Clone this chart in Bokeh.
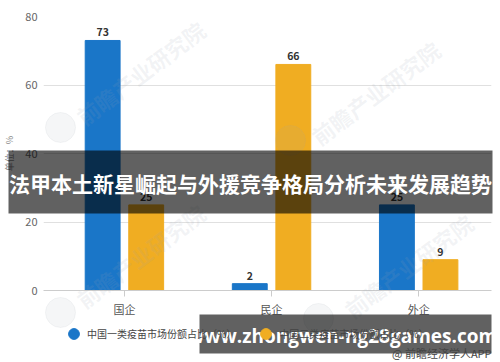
import math
from bokeh.plotting import figure
from bokeh.layouts import column
from bokeh.models import (ColumnDataSource, Range1d, Legend, LegendItem, FixedTicker)
from bokeh.core.properties import value
from bokeh.embed import file_html
from bokeh.resources import INLINE

categories = ["国企", "民企", "外企"]
series1_name = "中国一类疫苗市场份额占比（%）"
series2_name = "中国二类疫苗市场份额占比（%）"
series1 = [73, 2, 25]
series2 = [25, 66, 9]
y_ticks = [0, 20, 40, 60, 80]
banner_title = "法甲本土新星崛起与外援竞争格局分析未来发展趋势"
banner_url = "www.zhongwen-ng28games.com"
source_note = "@ 前瞻经济学人APP"
watermark = "前瞻产业研究院"

CJK = "Noto Sans CJK SC"
BLUE = "#1a76c8"
ORANGE = "#f0ad22"

pos = list(range(len(categories)))
src1 = ColumnDataSource(dict(x=[i - 0.148 for i in pos], y=series1, lab=[str(v) for v in series1]))
src2 = ColumnDataSource(dict(x=[i + 0.148 for i in pos], y=series2, lab=[str(v) for v in series2]))

# ---------------- main chart ----------------
p = figure(width=500, height=362, output_backend="svg", toolbar_location=None,
           x_range=Range1d(-0.55, 2.495), y_range=Range1d(0, 80),
           min_border_left=42, min_border_right=9, min_border_top=16, min_border_bottom=72,
           margin=(0, 0, 0, 0))
p.frame_align = False
p.outline_line_color = None
p.background_fill_color = "white"
p.border_fill_color = "white"

r1 = p.vbar(x="x", top="y", width=0.237, source=src1, color=BLUE)
r2 = p.vbar(x="x", top="y", width=0.237, source=src2, color=ORANGE)

for s in (src1, src2):
    p.text(x="x", y="y", text="lab", source=s, text_align="center", text_baseline="bottom",
           y_offset=-4, text_font=value(CJK), text_font_size="10.5px", text_font_style="bold",
           text_color="#333333")

p.xaxis.ticker = FixedTicker(ticks=pos)
p.xaxis.major_label_overrides = {i: c for i, c in enumerate(categories)}
p.xaxis.major_label_text_font = CJK
p.xaxis.major_label_text_font_size = "11px"
p.xaxis.major_label_text_color = "#555555"
p.xaxis.axis_line_color = "#cccccc"
p.xaxis.major_tick_line_color = "#cccccc"
p.xaxis.major_tick_in = 0
p.xaxis.major_tick_out = 6
p.xaxis.minor_tick_line_color = None
p.xaxis.major_label_standoff = 4
p.xgrid.grid_line_color = None

p.yaxis.ticker = FixedTicker(ticks=y_ticks)
p.yaxis.axis_line_color = None
p.yaxis.major_tick_line_color = None
p.yaxis.major_tick_out = 0
p.yaxis.major_tick_in = 0
p.yaxis.minor_tick_line_color = None
p.yaxis.major_label_text_font = CJK
p.yaxis.major_label_text_font_size = "11px"
p.yaxis.major_label_text_color = "#666666"
p.yaxis.major_label_standoff = 6
p.yaxis.axis_label = "单位：%"
p.yaxis.axis_label_text_font = CJK
p.yaxis.axis_label_text_font_size = "9px"
p.yaxis.axis_label_text_font_style = "normal"
p.yaxis.axis_label_text_color = "#888888"
p.yaxis.axis_label_standoff = 6
p.ygrid.grid_line_color = "#e0e0e0"

# ---------------- overlay (watermarks, legend, banners) ----------------
o = figure(width=500, height=362, output_backend="svg", toolbar_location=None,
           x_range=Range1d(0, 500), y_range=Range1d(362, 0),
           x_axis_location=None, y_axis_location=None,
           min_border=0, margin=(-362, 0, 0, 0))
o.frame_align = False
o.outline_line_color = None
o.background_fill_color = None
o.border_fill_color = None
o.grid.grid_line_color = None

# faint watermarks
o.text(x=[140, 375, 140, 408], y=[72, 92, 255, 265], text=[watermark] * 4,
       angle=math.radians(37), text_font=value(CJK), text_font_size="22px",
       text_font_style="bold", text_color="#9aa4b0", text_alpha=0.13,
       text_align="center", text_baseline="middle")
o.scatter(x=[60, 290, 60, 318], y=[127, 140, 312, 318], marker="circle", size=30,
          color="#9aa4b0", alpha=0.10)

d1 = o.scatter(x=[-100], y=[-100], marker="circle", size=11, color=BLUE)
d2 = o.scatter(x=[-100], y=[-100], marker="circle", size=11, color=ORANGE)
legend = Legend(items=[LegendItem(label=series1_name, renderers=[d1]),
                       LegendItem(label=series2_name, renderers=[d2])],
                orientation="horizontal", location=(60, 15), border_line_color=None,
                background_fill_alpha=0, label_text_font=CJK, label_text_font_size="10px",
                label_text_color="#444444", glyph_width=27, glyph_height=27,
                label_height=27, label_standoff=-2, spacing=16, padding=0, margin=0)
o.add_layout(legend)

o.quad(left=[8], right=[492], top=[150], bottom=[213], fill_color="black", fill_alpha=0.62,
       line_color=None)
o.text(x=[250], y=[182], text=[banner_title], text_font=value(CJK), text_font_size="21px",
       text_font_style="bold", text_color="white", text_align="center", text_baseline="middle")
o.quad(left=[199], right=[491], top=[314], bottom=[353], fill_color="black", fill_alpha=0.62,
       line_color=None)
o.text(x=[342], y=[335], text=[banner_url], text_font=value("Open Sans"), text_font_size="19px",
       text_font_style="bold", text_color="white", text_align="center", text_baseline="middle")
o.text(x=[491], y=[352], text=[source_note], text_font=value(CJK), text_font_size="11px",
       text_color="#444444", text_align="right", text_baseline="middle")

layout = column(p, o, spacing=0)
open("out.html", "w").write(file_html(layout, INLINE))
